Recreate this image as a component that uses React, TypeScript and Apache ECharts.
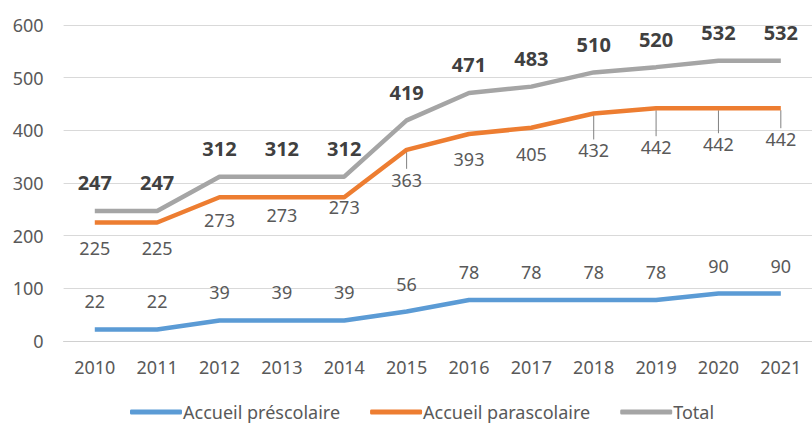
import React, { useEffect, useRef } from "react";
import * as echarts from "echarts";

const years = ["2010", "2011", "2012", "2013", "2014", "2015", "2016", "2017", "2018", "2019", "2020", "2021"];
const prescolaire = [22, 22, 39, 39, 39, 56, 78, 78, 78, 78, 90, 90];
const parascolaire = [225, 225, 273, 273, 273, 363, 393, 405, 432, 442, 442, 442];
const total = [247, 247, 312, 312, 312, 419, 471, 483, 510, 520, 532, 532];

// label vertical shifts (style only)
const paraLabelShift = [25, 25, 23, 18, 10, 30, 25, 26, 37, 39, 36, 31];
const paraLeader = [false, false, false, false, false, true, false, false, true, true, true, true];

const FONT = "Noto Sans";

export default function App() {
  const ref = useRef<HTMLDivElement>(null);
  useEffect(() => {
    const chart = echarts.init(ref.current!, undefined, { renderer: "svg" });
    const baseLabel = {
      show: true,
      position: "inside",
      fontFamily: FONT,
      fontSize: 18,
      color: "#595959",
    };
    chart.setOption({
      animation: false,
      textStyle: { fontFamily: FONT },
      grid: { left: 63.6, right: -11, top: 25, bottom: 83, containLabel: false },
      legend: {
        left: 125,
        top: 398,
        itemWidth: 52,
        itemHeight: 5,
        itemGap: 30,
        icon: "roundRect",
        textStyle: { fontFamily: FONT, fontSize: 18, color: "#595959", padding: [0, 0, 0, -4] },
        data: ["Accueil préscolaire", "Accueil parascolaire", "Total"],
      },
      xAxis: {
        type: "category",
        data: years,
        boundaryGap: true,
        axisLine: { show: true, lineStyle: { color: "#d0d0d0", width: 1 } },
        axisTick: { show: false },
        axisLabel: { color: "#595959", fontSize: 18, fontFamily: FONT, margin: 17 },
      },
      yAxis: {
        type: "value",
        min: 0,
        max: 600,
        interval: 100,
        axisLine: { show: false },
        axisTick: { show: false },
        splitLine: { lineStyle: { color: "#d9d9d9", width: 1 } },
        axisLabel: { color: "#595959", fontSize: 18, fontFamily: FONT, margin: 20 },
      },
      series: [
        {
          name: "leaders",
          type: "custom",
          silent: true,
          z: 1,
          data: parascolaire.map((v, i) => [i, v]),
          renderItem: (params: any, api: any) => {
            const idx = params.dataIndex;
            if (!paraLeader[idx]) return null;
            const p = api.coord([api.value(0), api.value(1)]);
            return {
              type: "line",
              shape: { x1: p[0], y1: p[1] + 2, x2: p[0], y2: p[1] + paraLabelShift[idx] - 11 },
              style: { stroke: "#808080", lineWidth: 1 },
            };
          },
        },
        {
          name: "Accueil préscolaire",
          type: "line",
          data: prescolaire,
          symbol: "circle",
          symbolSize: 0,
          color: "#5B9BD5",
          lineStyle: { width: 4.5, color: "#5B9BD5" },
          label: { ...baseLabel },
          labelLayout: { dy: -28 },
          z: 3,
        },
        {
          name: "Accueil parascolaire",
          type: "line",
          data: parascolaire,
          symbol: "circle",
          symbolSize: 0,
          color: "#ED7D31",
          lineStyle: { width: 4.5, color: "#ED7D31" },
          label: { ...baseLabel },
          labelLayout: (p: any) => ({ dy: paraLabelShift[p.dataIndex] }),
          z: 3,
        },
        {
          name: "Total",
          type: "line",
          data: total,
          symbol: "circle",
          symbolSize: 0,
          color: "#A5A5A5",
          lineStyle: { width: 4.5, color: "#A5A5A5" },
          label: { ...baseLabel, fontWeight: "bold", fontSize: 20, color: "#404040" },
          labelLayout: { dy: -28 },
          z: 3,
        },
      ],
    });
    return () => chart.dispose();
  }, []);
  return (
    <div
      ref={ref}
      style={{ position: "absolute", left: 0, top: 0, width: 812, height: 424, background: "#fff" }}
    />
  );
}
